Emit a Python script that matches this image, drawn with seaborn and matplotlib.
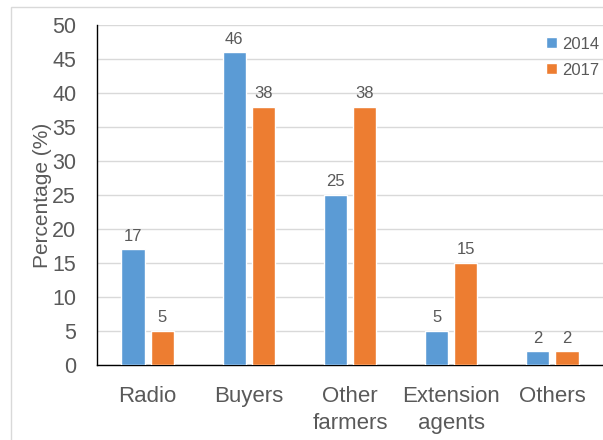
import matplotlib
matplotlib.use("Agg")
import matplotlib.pyplot as plt
import seaborn as sns
import pandas as pd
from matplotlib.patches import Rectangle

# Information sources reported by farmers, share of respondents
categories = ["Radio", "Buyers", "Other\nfarmers", "Extension\nagents", "Others"]
years = ["2014", "2017"]
pct_2014 = [17, 46, 25, 5, 2]
pct_2017 = [5, 38, 38, 15, 2]
y_ticks = [0, 5, 10, 15, 20, 25, 30, 35, 40, 45, 50]

df = pd.DataFrame({
    "source": categories * 2,
    "year": [years[0]] * len(categories) + [years[1]] * len(categories),
    "pct": pct_2014 + pct_2017,
})

sns.set_theme(style="white")
plt.rcParams["font.family"] = ["Liberation Sans", "DejaVu Sans"]
text_color = "#595959"
palette = {"2014": "#5B9BD5", "2017": "#ED7D31"}

fig = plt.figure(figsize=(6.03, 4.40), dpi=100)
W, H = 603, 440
ax = fig.add_axes([97 / W, 1 - 365 / H, 506 / W, 340 / H])

# light frame around the chart area
fig.patches.append(Rectangle((11 / W, -0.05), 1.1, 1 - 7 / H + 0.05,
                             transform=fig.transFigure, fill=False,
                             edgecolor="#d9d9d9", linewidth=1.0, zorder=0))

sns.barplot(data=df, x="source", y="pct", hue="year", order=categories,
            hue_order=years, palette=palette, width=0.575, gap=0.2,
            saturation=1, ax=ax, zorder=3)

ax.set_ylim(0, 50)
ax.set_xlim(-0.5, 4.5)
ax.set_yticks(y_ticks)
ax.yaxis.grid(True, color="#d9d9d9", linewidth=1.0, zorder=0)
ax.set_axisbelow(True)

for side in ["top", "right"]:
    ax.spines[side].set_visible(False)
for side in ["left", "bottom"]:
    ax.spines[side].set_color("black")
    ax.spines[side].set_linewidth(1.0)

ax.tick_params(axis="y", length=0, pad=15, labelsize=15.5, labelcolor=text_color)
ax.tick_params(axis="x", length=0, pad=15, labelsize=16, labelcolor=text_color)
for lbl in ax.get_xticklabels():
    lbl.set_linespacing(1.4)

ax.set_xlabel("")
ax.set_ylabel("Percentage (%)", fontsize=15, color=text_color)
ax.yaxis.set_label_coords(-0.089, 0.5)

for container in ax.containers:
    ax.bar_label(container, labels=[f"{v:.0f}" for v in container.datavalues],
                 padding=4, fontsize=12, color=text_color)

leg = ax.legend(loc="upper right", bbox_to_anchor=(1.005, 0.985), frameon=False,
                fontsize=12, handlelength=0.65, handleheight=0.65,
                handletextpad=0.3, labelspacing=0.65, borderaxespad=0)
for t in leg.get_texts():
    t.set_color(text_color)

fig.savefig("out.png", dpi=100)
